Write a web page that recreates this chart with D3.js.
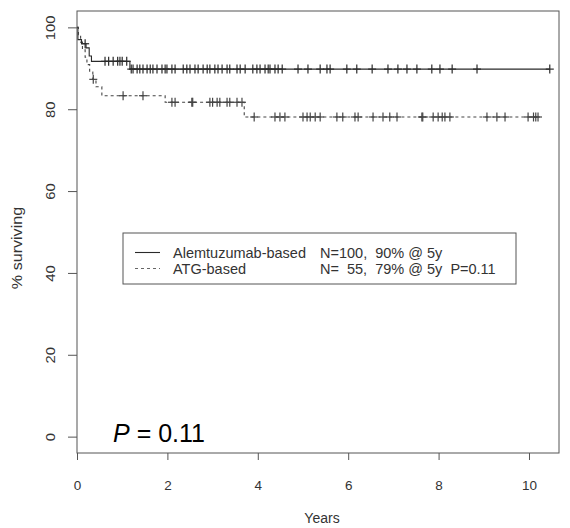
<!DOCTYPE html>
<html><head><meta charset="utf-8">
<script src="https://cdn.jsdelivr.net/npm/d3@7"></script>
<style>body{margin:0;background:#fff}svg{display:block}text{font-family:"Liberation Sans",Arial,sans-serif}</style>
</head><body><svg id="c" width="570" height="528"></svg>
<script>
// Alemtuzumab-based: step function (time in years, % surviving)
const alemTimes = [0, 0.02, 0.1, 0.2, 0.27, 0.32, 1.17];
const alemSurv  = [100, 97, 96, 95, 93, 91.7, 89.8];
const alemCensor = [0.18, 0.62, 0.7, 0.8, 0.9, 0.95, 1.0, 1.1,
  1.2, 1.24, 1.33, 1.39, 1.46, 1.55, 1.62, 1.68, 1.77, 1.88, 1.95, 1.99, 2.10, 2.17, 2.35, 2.43, 2.50,
  2.61, 2.68, 2.79, 2.88, 2.94, 3.05, 3.12, 3.21, 3.32, 3.38, 3.54, 3.61, 3.72, 3.89, 3.98, 4.05, 4.16,
  4.23, 4.27, 4.38, 4.45, 4.54, 4.89, 5.11, 5.38, 5.53, 5.60, 5.97, 6.19, 6.53, 6.88, 7.10, 7.30, 7.52,
  7.85, 8.03, 8.30, 8.85, 10.46];
// ATG-based
const atgTimes = [0, 0.03, 0.08, 0.12, 0.18, 0.22, 0.28, 0.35, 0.42, 0.55, 1.95, 3.7];
const atgSurv  = [100, 98.2, 96.4, 94.5, 92.7, 90.9, 89.1, 87.3, 85.5, 83.3, 81.7, 78.1];
const atgCensor = [0.36, 1.02, 1.46, 2.10, 2.17, 2.54, 2.56, 2.94, 3.0, 3.10, 3.16, 3.32, 3.38, 3.54, 3.65,
  3.92, 4.38, 4.49, 4.60, 5.0, 5.09, 5.16, 5.27, 5.38, 5.75, 5.88, 6.15, 6.22, 6.55, 6.77, 6.92, 7.08,
  7.63, 7.65, 7.88, 7.99, 8.08, 8.14, 8.25, 9.07, 9.29, 9.47, 9.98, 10.10, 10.15, 10.2];
const xTicks = [0, 2, 4, 6, 8, 10];
const yTicks = [0, 20, 40, 60, 80, 100];
const legendNames = ["Alemtuzumab-based", "ATG-based"];
const legendStats = ["N=100,  90% @ 5y", "N=  55,  79% @ 5y  P=0.11"];

const svg = d3.select("#c");
const L = 77, R = 559, T = 11, B = 453;
const x = d3.scaleLinear().domain([0, 10.664]).range([L, R]);
const y = d3.scaleLinear().domain([-4, 104]).range([B, T]);
const ink = "#2a2a2a";

function stepAt(times, surv, t) {
  let v = surv[0];
  for (let i = 0; i < times.length; i++) if (times[i] <= t) v = surv[i];
  return v;
}
function stepPath(times, surv, end) {
  const pts = [];
  for (let i = 0; i < times.length; i++) {
    if (i > 0) pts.push([times[i], surv[i - 1]]);
    pts.push([times[i], surv[i]]);
  }
  pts.push([end, surv[surv.length - 1]]);
  return d3.line().x(d => x(d[0])).y(d => y(d[1]))(pts);
}
function drawCurve(times, surv, cens, dash, color) {
  const end = d3.max(cens);
  svg.append("path").attr("d", stepPath(times, surv, end)).attr("fill", "none")
    .attr("stroke", color).attr("stroke-width", 1.1).attr("stroke-dasharray", dash);
  const g = svg.append("g").attr("stroke", color).attr("stroke-width", 1.2);
  cens.forEach(t => {
    const cx = x(t), cy = y(stepAt(times, surv, t));
    g.append("line").attr("x1", cx).attr("x2", cx).attr("y1", cy - 4.5).attr("y2", cy + 4.5);
    g.append("line").attr("x1", cx - 4).attr("x2", cx + 4).attr("y1", cy).attr("y2", cy);
  });
}
drawCurve(atgTimes, atgSurv, atgCensor, "3,3", "#444");
drawCurve(alemTimes, alemSurv, alemCensor, null, ink);

// frame
svg.append("rect").attr("x", L).attr("y", T).attr("width", R - L).attr("height", B - T)
  .attr("fill", "none").attr("stroke", "#555").attr("stroke-width", 1);

// axes
const xAxis = d3.axisBottom(x).tickValues(xTicks).tickSize(7).tickFormat(d3.format("d"));
const gx = svg.append("g").attr("transform", `translate(0,${B})`).call(xAxis);
gx.select(".domain").remove();
gx.selectAll("line").attr("stroke", "#555");
gx.selectAll("text").attr("font-size", 13.5).attr("fill", "#333").attr("dy", 0).attr("y", 37);

const yAxis = d3.axisLeft(y).tickValues(yTicks).tickSize(9).tickFormat(d3.format("d"));
const gy = svg.append("g").attr("transform", `translate(${L},0)`).call(yAxis);
gy.select(".domain").remove();
gy.selectAll("line").attr("stroke", "#555");
gy.selectAll("text").attr("font-size", 13.5).attr("fill", "#333")
  .attr("x", null).attr("dy", null).attr("text-anchor", "middle")
  .attr("transform", "translate(-22,0) rotate(-90) scale(1.1,1)");

svg.append("text").attr("x", (L + R) / 2 + 4).attr("y", 523).attr("text-anchor", "middle")
  .attr("font-size", 14).attr("fill", "#333").text("Years");
svg.append("text").attr("transform", "translate(22,248) rotate(-90) scale(1.15,1)").attr("text-anchor", "middle")
  .attr("font-size", 14).attr("fill", "#333").text("% surviving");

// legend
const lg = svg.append("g");
lg.append("rect").attr("x", 123).attr("y", 233).attr("width", 393).attr("height", 51)
  .attr("fill", "#fff").attr("stroke", "#555");
[0, 1].forEach(i => {
  const cy = 252.5 + i * 16;
  lg.append("line").attr("x1", 135).attr("x2", 160).attr("y1", cy).attr("y2", cy)
    .attr("stroke", i ? "#666" : ink).attr("stroke-width", 1.1).attr("stroke-dasharray", i ? "3,3" : null);
  lg.append("text").attr("x", 173).attr("y", cy + 5).attr("font-size", 14.5).attr("fill", "#333").text(legendNames[i]);
  lg.append("text").attr("x", 320).attr("y", cy + 5).attr("font-size", 14.5).attr("fill", "#333")
    .attr("xml:space", "preserve").style("white-space", "pre").text(legendStats[i]);
});

// P value annotation
const pt = svg.append("text").attr("x", 113).attr("y", 442).attr("font-size", 25).attr("fill", "#000");
pt.append("tspan").attr("font-style", "italic").text("P");
pt.append("tspan").text(" = 0.11");
</script></body></html>
